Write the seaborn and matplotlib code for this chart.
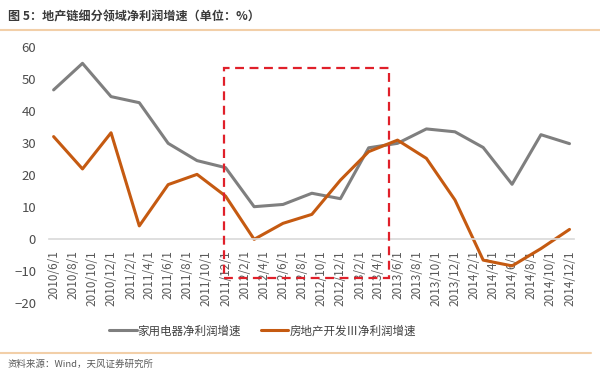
"""
Net profit growth of property-chain sectors, recreated with seaborn.
"""

import pandas as pd
import matplotlib.pyplot as plt
from matplotlib.lines import Line2D
from matplotlib.patches import Rectangle
import seaborn as sns


# DATA

quarters = ['2010/6/1', '2010/9/1', '2010/12/1', '2011/3/1', '2011/6/1',
            '2011/9/1', '2011/12/1', '2012/3/1', '2012/6/1', '2012/9/1',
            '2012/12/1', '2013/3/1', '2013/6/1', '2013/9/1', '2013/12/1',
            '2014/3/1', '2014/6/1', '2014/9/1', '2014/12/1']

appliance_growth = [46.6, 54.9, 44.5, 42.6, 29.9, 24.5, 22.3, 10.1, 10.8, 14.3,
                    12.6, 28.5, 29.9, 34.4, 33.5, 28.6, 17.1, 32.6, 29.8]

property_growth = [32.0, 21.9, 33.2, 4.1, 17.0, 20.2, 13.4, -0.1, 4.9, 7.7,
                   18.4, 27.3, 30.9, 25.2, 12.2, -6.6, -8.4, -3.0, 3.0]

tick_labels = ['2010/6/1', '2010/8/1', '2010/10/1', '2010/12/1',
               '2011/2/1', '2011/4/1', '2011/6/1', '2011/8/1', '2011/10/1', '2011/12/1',
               '2012/2/1', '2012/4/1', '2012/6/1', '2012/8/1', '2012/10/1', '2012/12/1',
               '2013/2/1', '2013/4/1', '2013/6/1', '2013/8/1', '2013/10/1', '2013/12/1',
               '2014/2/1', '2014/4/1', '2014/6/1', '2014/8/1', '2014/10/1', '2014/12/1']

series_names = ['家用电器净利润增速', '房地产开发Ⅲ净利润增速']
series_colors = ['#7f7f7f', '#c55a11']

# highlighted period (dashed box)
box_start, box_end = '2011/11/26', '2013/5/4'
box_low, box_high = -12.3, 53.5


# PLOT

sns.set_style('white')
plt.rcParams['font.family'] = ['Noto Sans CJK SC', 'DejaVu Sans']

df = pd.DataFrame({
    'date': pd.to_datetime(quarters * 2),
    'value': appliance_growth + property_growth,
    'series': [series_names[0]] * len(quarters) + [series_names[1]] * len(quarters),
})

fig = plt.figure(figsize=(6, 3.8), dpi=100)
ax = fig.add_axes([0.081, 0.2026, 0.876, 0.6737])

sns.lineplot(data=df, x='date', y='value', hue='series', hue_order=series_names,
             palette=series_colors, linewidth=2.2, ax=ax)

# axes styling
ax.set_ylim(-20, 60)
ax.set_yticks(range(-20, 61, 10))
ax.set_xlim(pd.Timestamp('2010-05-16'), pd.Timestamp('2014-12-16'))
ax.set_xlabel('')
ax.set_ylabel('')
for side in ['left', 'right', 'top']:
    ax.spines[side].set_visible(False)
ax.spines['bottom'].set_position(('data', 0))
ax.spines['bottom'].set_color('#d9d9d9')
ax.spines['bottom'].set_linewidth(1.2)

label_dates = pd.to_datetime(tick_labels)
ax.set_xticks(label_dates)
ax.set_xticklabels(tick_labels, rotation=90, fontsize=8.5, color='#595959')
ax.set_xticks(label_dates - pd.Timedelta(days=15), minor=True)
ax.tick_params(axis='x', which='major', length=0, pad=8)
ax.tick_params(axis='x', which='minor', length=4, width=1, color='#d9d9d9')
ax.tick_params(axis='y', length=0, pad=9, labelsize=9.5, labelcolor='#4d4d4d')

# dashed highlight box
x0 = pd.Timestamp(box_start)
x1 = pd.Timestamp(box_end)
ax.add_patch(Rectangle((x0, box_low), x1 - x0, box_high - box_low, fill=False,
                       edgecolor='#e0202a', linewidth=1.6, linestyle=(0, (4, 2.5)),
                       zorder=5))

# legend below the chart
handles, labels = ax.get_legend_handles_labels()
ax.get_legend().remove()
fig.legend(handles, labels, loc='center', bbox_to_anchor=(0.4375, 0.129), ncol=2,
           frameon=False, fontsize=8.3, handlelength=2.4, handletextpad=0.1,
           columnspacing=1.7, labelcolor='#404040')

# title, footer and rules
fig.text(0.013, 0.955, '图 5：地产链细分领域净利润增速（单位：%）', fontsize=8.7,
         fontweight='bold', color='#3a3a3a', va='center')
fig.add_artist(Line2D([0, 1], [0.921, 0.921], color='#f2cfa8', linewidth=1.5))
fig.add_artist(Line2D([0, 0.985], [0.072, 0.072], color='#f2cfa8', linewidth=1.5))
fig.text(0.013, 0.043, '资料来源：Wind，天风证券研究所', fontsize=6.8,
         color='#595959', va='center')

fig.savefig('out.png', dpi=100)
plt.close(fig)
